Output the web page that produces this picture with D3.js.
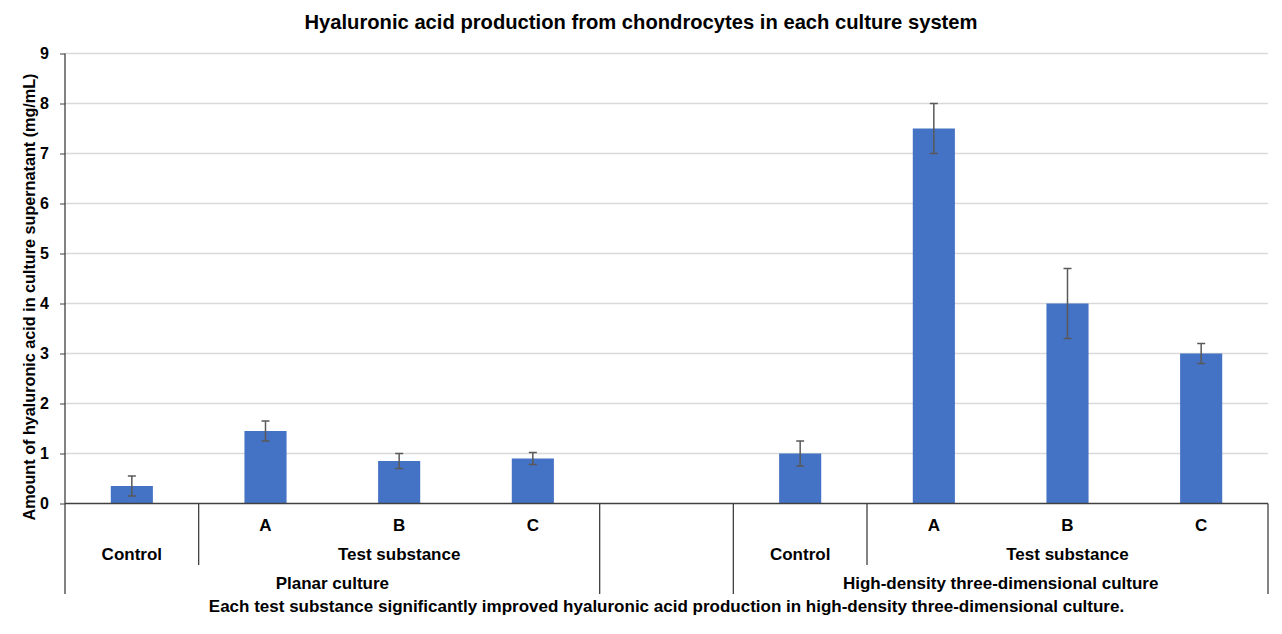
<!DOCTYPE html>
<html>
<head>
<meta charset="utf-8">
<script src="https://cdn.jsdelivr.net/npm/d3@7"></script>
<style>
  body { margin: 0; background: #fff; }
  text { font-family: "Liberation Sans", Arial, sans-serif; font-weight: bold; fill: #000; }
</style>
</head>
<body>
<div id="chart"></div>
<script>
// category levels, innermost first
const level1 = ["", "A", "B", "C", "", "", "A", "B", "C"];
const level2 = ["Control", "Test substance", "Test substance", "Test substance", "",
	"Control", "Test substance", "Test substance", "Test substance"];
const level3 = ["Planar culture", "Planar culture", "Planar culture", "Planar culture", "",
	"High-density three-dimensional culture", "High-density three-dimensional culture",
	"High-density three-dimensional culture", "High-density three-dimensional culture"];

const values = [0.35, 1.45, 0.85, 0.9, null, 1.0, 7.5, 4.0, 3.0];
const errors = [0.2, 0.2, 0.15, 0.12, null, 0.25, 0.5, 0.7, 0.2];
const yTicks = [0, 1, 2, 3, 4, 5, 6, 7, 8, 9];

const title = "Hyaluronic acid production from chondrocytes in each culture system";
const yTitle = "Amount of hyaluronic acid in culture supernatant (mg/mL)";
const xTitle = "Each test substance significantly improved hyaluronic acid production in high-density three-dimensional culture.";

const width = 1282, height = 634;
const plotLeft = 65, plotRight = 1268, plotTop = 53.5, plotBottom = 503.5;

const svg = d3.select("#chart").append("svg")
	.attr("width", width)
	.attr("height", height);

const x = d3.scaleBand()
	.domain(d3.range(values.length))
	.range([plotLeft, plotRight])
	.padding(0);

const y = d3.scaleLinear()
	.domain([0, 9])
	.range([plotBottom, plotTop]);

// gridlines
svg.append("g")
	.selectAll("line")
	.data(yTicks.slice(1))
	.enter()
	.append("line")
	.attr("x1", plotLeft)
	.attr("x2", plotRight)
	.attr("y1", (d) => y(d))
	.attr("y2", (d) => y(d))
	.attr("stroke", "#d9d9d9")
	.attr("stroke-width", 1.3);

// y axis
const yAxis = svg.append("g")
	.attr("transform", `translate(${plotLeft},0)`)
	.call(d3.axisLeft(y).tickValues(yTicks).tickSize(5).tickPadding(11));
yAxis.select(".domain").remove();
yAxis.selectAll("line").attr("stroke", "#404040");
yAxis.selectAll("text")
	.style("font-size", "16px")
	.style("font-family", "'Liberation Sans', Arial, sans-serif")
	.style("font-weight", "bold")
	.attr("fill", "#000");

svg.append("line")
	.attr("x1", plotLeft).attr("x2", plotLeft)
	.attr("y1", plotTop).attr("y2", 594)
	.attr("stroke", "#404040")
	.attr("stroke-width", 1.3);

// bars
const barW = x.bandwidth() * 0.315;
const items = values.map((v, i) => ({ i: i, v: v, e: errors[i] })).filter((d) => d.v != null);

svg.append("g")
	.selectAll("rect")
	.data(items)
	.enter()
	.append("rect")
	.attr("x", (d) => x(d.i) + x.bandwidth() / 2 - barW / 2)
	.attr("y", (d) => y(d.v))
	.attr("width", barW)
	.attr("height", (d) => y(0) - y(d.v))
	.attr("fill", "#4472c4");

// error bars
const err = svg.append("g")
	.attr("stroke", "#595959")
	.attr("stroke-width", 1.5);
items.forEach((d) => {
	const cx = x(d.i) + x.bandwidth() / 2;
	err.append("line")
		.attr("x1", cx).attr("x2", cx)
		.attr("y1", y(d.v + d.e)).attr("y2", y(d.v - d.e));
	[d.v + d.e, d.v - d.e].forEach((t) => {
		err.append("line")
			.attr("x1", cx - 4).attr("x2", cx + 4)
			.attr("y1", y(t)).attr("y2", y(t));
	});
});

// x baseline
svg.append("line")
	.attr("x1", plotLeft).attr("x2", plotRight)
	.attr("y1", y(0)).attr("y2", y(0))
	.attr("stroke", "#404040")
	.attr("stroke-width", 1.3);

// merge consecutive equal labels into spans
function spans(keys, labels) {
	const out = [];
	keys.forEach((k, i) => {
		const last = out[out.length - 1];
		if (last && last.key === k) {
			last.end = i;
		} else {
			out.push({ key: k, label: labels[i], start: i, end: i });
		}
	});
	return out;
}

const key2 = level2.map((d, i) => level3[i] + "|" + d);
const spans2 = spans(key2, level2);
const spans3 = spans(level3.map((d, i) => d + (d === "" ? i : "")), level3);

// boundary lines: outer level full depth, middle level shorter
const longEdges = new Set(spans3.map((s) => s.start).concat([values.length]));
const shortEdges = spans2.map((s) => s.start).filter((s) => !longEdges.has(s));

const edgeX = (i) => (i >= values.length ? plotRight : x(i));

svg.append("g")
	.selectAll("line")
	.data(Array.from(longEdges).filter((i) => i > 0))
	.enter()
	.append("line")
	.attr("x1", edgeX).attr("x2", edgeX)
	.attr("y1", y(0)).attr("y2", 594)
	.attr("stroke", "#404040")
	.attr("stroke-width", 1.3);

svg.append("g")
	.selectAll("line")
	.data(shortEdges)
	.enter()
	.append("line")
	.attr("x1", edgeX).attr("x2", edgeX)
	.attr("y1", y(0)).attr("y2", 565)
	.attr("stroke", "#404040")
	.attr("stroke-width", 1.3);

// category labels
svg.append("g")
	.selectAll("text")
	.data(level1)
	.enter()
	.append("text")
	.attr("x", (d, i) => x(i) + x.bandwidth() / 2)
	.attr("y", 531)
	.attr("text-anchor", "middle")
	.style("font-size", "17px")
	.text((d) => d);

const spanX = (s) => (x(s.start) + x(s.end) + x.bandwidth()) / 2;

svg.append("g")
	.selectAll("text")
	.data(spans2)
	.enter()
	.append("text")
	.attr("x", spanX)
	.attr("y", 560)
	.attr("text-anchor", "middle")
	.style("font-size", "17px")
	.text((d) => d.label);

svg.append("g")
	.selectAll("text")
	.data(spans3)
	.enter()
	.append("text")
	.attr("x", spanX)
	.attr("y", 589)
	.attr("text-anchor", "middle")
	.style("font-size", "17px")
	.text((d) => d.label);

// titles
svg.append("text")
	.attr("x", (plotLeft + plotRight) / 2)
	.attr("y", 612)
	.attr("text-anchor", "middle")
	.style("font-size", "17px")
	.text(xTitle);

svg.append("text")
	.attr("x", 641)
	.attr("y", 29)
	.attr("text-anchor", "middle")
	.style("font-size", "20.2px")
	.text(title);

svg.append("text")
	.attr("transform", "translate(35,297) rotate(-90)")
	.attr("text-anchor", "middle")
	.style("font-size", "16.2px")
	.text(yTitle);
</script>
</body>
</html>
